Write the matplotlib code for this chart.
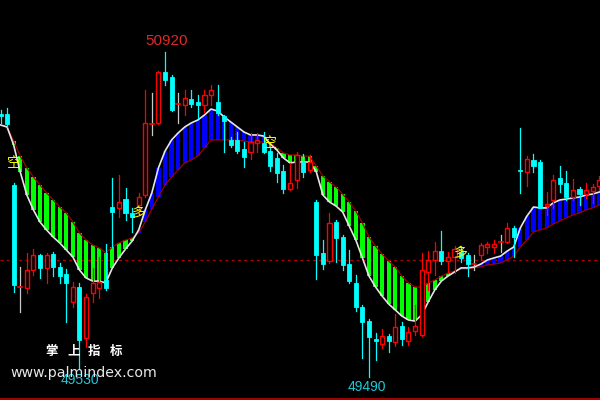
import matplotlib
matplotlib.use("Agg")
import matplotlib.pyplot as plt
from matplotlib.patches import Rectangle
from matplotlib.lines import Line2D
import numpy as np

# ---------------- data ----------------
opens = [50647, 50647, 50335, 49886, 49882, 49961, 50027, 49970, 50031, 49974,
         49943, 49820, 49886, 49662, 49860, 49882, 49917, 50238, 50234, 50273,
         50212, 50247, 50291, 50603, 50608, 50832, 50810, 50691, 50687, 50713,
         50700, 50687, 50731, 50700, 50638, 50533, 50533, 50493, 50480, 50520,
         50520, 50484, 50454, 50396, 50317, 50357, 50436, 50401, 50260, 50036,
         50000, 50172, 50106, 49987, 49904, 49798, 49736, 49657, 49635, 49670,
         49644, 49714, 49648, 49692, 49675, 49952, 50005, 50044, 50000, 50018,
         50040, 50027, 49987, 50027, 50062, 50062, 50084, 50084, 50146, 50401,
         50392, 50445, 50436, 50242, 50269, 50366, 50344, 50282, 50317, 50295,
         50308, 50330]
highs = [50665, 50674, 50344, 49974, 50036, 50053, 50031, 50036, 50040, 49992,
         49965, 49908, 49904, 49855, 49970, 50018, 50075, 50366, 50379, 50322,
         50234, 50300, 50753, 50740, 50836, 50920, 50819, 50740, 50753, 50753,
         50731, 50753, 50775, 50775, 50643, 50546, 50568, 50524, 50564, 50564,
         50568, 50502, 50476, 50423, 50432, 50480, 50471, 50467, 50269, 50093,
         50212, 50181, 50115, 50049, 49939, 49807, 49745, 49684, 49701, 49679,
         49767, 49732, 49710, 49807, 50036, 50044, 50084, 50132, 50040, 50066,
         50066, 50036, 50027, 50080, 50084, 50093, 50115, 50168, 50154, 50586,
         50462, 50471, 50445, 50304, 50379, 50418, 50396, 50361, 50326, 50344,
         50339, 50374]
lows = [50608, 50590, 49864, 49776, 49860, 49939, 49926, 49904, 49934, 49904,
        49732, 49798, 49530, 49622, 49820, 49838, 49873, 50062, 50194, 50181,
        50128, 50212, 50282, 50555, 50603, 50775, 50660, 50608, 50643, 50678,
        50630, 50656, 50687, 50643, 50480, 50502, 50476, 50414, 50449, 50480,
        50476, 50396, 50348, 50300, 50313, 50322, 50370, 50392, 49921, 49965,
        49992, 49996, 49961, 49904, 49780, 49574, 49490, 49565, 49618, 49600,
        49626, 49631, 49631, 49675, 49670, 49873, 49939, 49987, 49948, 49948,
        49996, 49934, 49961, 50005, 50036, 50036, 50040, 50080, 50018, 50300,
        50330, 50392, 50234, 50203, 50234, 50304, 50269, 50269, 50247, 50278,
        50256, 50313]
closes = [50638, 50603, 49895, 49886, 49961, 50027, 49970, 50027, 49974, 49934,
          49904, 49886, 49653, 49842, 49904, 49908, 49882, 50216, 50260, 50212,
          50194, 50282, 50608, 50603, 50832, 50797, 50665, 50691, 50718, 50691,
          50687, 50731, 50753, 50652, 50616, 50511, 50484, 50458, 50524, 50533,
          50480, 50418, 50388, 50317, 50344, 50467, 50392, 50436, 50027, 49987,
          50168, 50102, 49983, 49912, 49798, 49732, 49666, 49648, 49670, 49648,
          49710, 49657, 49688, 49714, 49961, 50005, 50044, 50000, 50018, 50053,
          50014, 49987, 49987, 50071, 50075, 50075, 50084, 50146, 50106, 50396,
          50449, 50418, 50234, 50251, 50357, 50339, 50282, 50313, 50295, 50313,
          50326, 50357]
fast_line = [50599, 50590, 50511, 50392, 50291, 50225, 50172, 50137, 50106, 50080,
             50049, 50018, 49961, 49926, 49912, 49912, 49904, 49970, 50014, 50053,
             50088, 50137, 50225, 50300, 50410, 50484, 50533, 50564, 50590, 50608,
             50621, 50643, 50669, 50660, 50634, 50612, 50590, 50568, 50555, 50555,
             50550, 50515, 50489, 50454, 50432, 50436, 50436, 50436, 50392, 50291,
             50260, 50242, 50216, 50154, 50093, 50014, 49934, 49886, 49846, 49811,
             49785, 49758, 49741, 49736, 49763, 49820, 49873, 49912, 49934, 49952,
             49970, 49970, 49974, 49987, 50005, 50014, 50022, 50044, 50062, 50146,
             50198, 50238, 50234, 50234, 50256, 50269, 50273, 50278, 50282, 50291,
             50295, 50304]
slow_line = [50599, 50590, 50528, 50462, 50410, 50370, 50335, 50300, 50269, 50238,
             50212, 50172, 50124, 50093, 50071, 50058, 50036, 50062, 50080, 50093,
             50102, 50124, 50172, 50229, 50282, 50335, 50370, 50401, 50432, 50445,
             50462, 50498, 50533, 50533, 50533, 50533, 50533, 50528, 50524, 50524,
             50524, 50520, 50498, 50476, 50467, 50467, 50462, 50462, 50418, 50374,
             50348, 50326, 50295, 50260, 50220, 50168, 50106, 50066, 50031, 50000,
             49974, 49934, 49904, 49886, 49886, 49904, 49917, 49934, 49948, 49956,
             49965, 49965, 49970, 49974, 49983, 49987, 49992, 50005, 50022, 50062,
             50093, 50128, 50137, 50146, 50163, 50176, 50190, 50203, 50212, 50225,
             50234, 50247]
ref_level = 50005
signal_idx = [2, 21, 41, 70]
signal_text = ["空", "多", "空", "多"]
signal_price = [50432, 50212, 50520, 50036]
high_label = "50920"
low_labels = ["49530", "49490"]
watermark_chars = ["掌", "上", "指", "标"]
watermark_url = "www.palmindex.com"

# ---------------- figure ----------------
fig = plt.figure(figsize=(6, 4), dpi=100, facecolor="black")
ax = fig.add_axes([0, 0, 1, 1])
ax.set_facecolor("black")
ax.set_axis_off()
n = len(opens)
x = np.arange(n)
ax.set_xlim(-0.076, 91.11)
ax.set_ylim(49388.8, 51148.8)

# reference dotted line
ax.axhline(ref_level, color="#B00000", lw=1.0, ls=(0, (2, 2.5)), zorder=1)

# band between indicator lines, as vertical bars
fast = np.array(fast_line, float)
slow = np.array(slow_line, float)
bottom = np.minimum(fast, slow)
height = np.abs(fast - slow)
cols = ["#00FF00" if f < s else "#0000FF" for f, s in zip(fast, slow)]
ax.bar(x, height, bottom=bottom, width=0.64, color=cols, zorder=2, linewidth=0)
ax.plot(x, slow, color="#A00000", lw=0.9, zorder=3)
ax.plot(x, fast, color="#E6E6E6", lw=1.2, zorder=3)

# candles
w = 0.62
for i in range(n):
    o, h, l, c = opens[i], highs[i], lows[i], closes[i]
    if c > o:
        ax.plot([i, i], [l, h], color="#FF0000", lw=0.9, zorder=4)
        ax.add_patch(Rectangle((i - w / 2, o), w, c - o, facecolor="black",
                               edgecolor="#FF0000", lw=1.0, zorder=5))
    elif c < o:
        ax.plot([i, i], [l, h], color="#00FFFF", lw=0.9, zorder=4)
        ax.add_patch(Rectangle((i - w / 2, c), w, o - c, facecolor="#00FFFF",
                               edgecolor="#00FFFF", lw=0.6, zorder=5))
    else:
        ax.plot([i, i], [l, h], color="#C8C8C8", lw=0.9, zorder=4)
        ax.plot([i - w / 2, i + w / 2], [o, o], color="#FF0000", lw=1.2, zorder=5)

# signals
for si, st, sp in zip(signal_idx, signal_text, signal_price):
    ax.text(si, sp, st, color="#FFFF00", fontsize=10, ha="center", va="center",
            family=["Noto Sans CJK SC", "DejaVu Sans"], zorder=6)

lab_font = ["Liberation Sans", "DejaVu Sans"]
ih = int(np.argmax(highs))
ax.annotate(high_label, (ih, highs[ih]), xytext=(1.5, 8), textcoords="offset points",
            color="#E02828", fontsize=11, ha="center", va="center", family=lab_font, zorder=7)
il1 = int(np.argmin(lows[:30]))
ax.annotate(low_labels[0], (il1, lows[il1]), xytext=(0, -9), textcoords="offset points",
            color="#20C8D8", fontsize=10, ha="center", va="center", family=lab_font, zorder=7)
il2 = int(np.argmin(lows))
ax.annotate(low_labels[1], (il2, lows[il2]), xytext=(-1.5, -7), textcoords="offset points",
            color="#20C8D8", fontsize=10, ha="center", va="center", family=lab_font, zorder=7)

# watermark
for k, ch in enumerate(watermark_chars):
    fig.text((52 + 21.2 * k) / 600, 1 - 351 / 400, ch, color="white", fontsize=9,
             fontweight="bold", ha="center", va="center",
             family=["Noto Sans CJK SC", "DejaVu Sans"], zorder=8)
fig.text(10 / 600, 1 - 373 / 400, watermark_url, color="#E8E8E8", fontsize=10.2,
         ha="left", va="center", family="DejaVu Sans", zorder=8)

# bottom red border
fig.add_artist(Line2D([0, 1], [1.5 / 400, 1.5 / 400], color="#C00000", lw=1.2))

fig.savefig("out.png", dpi=100, facecolor="black")
